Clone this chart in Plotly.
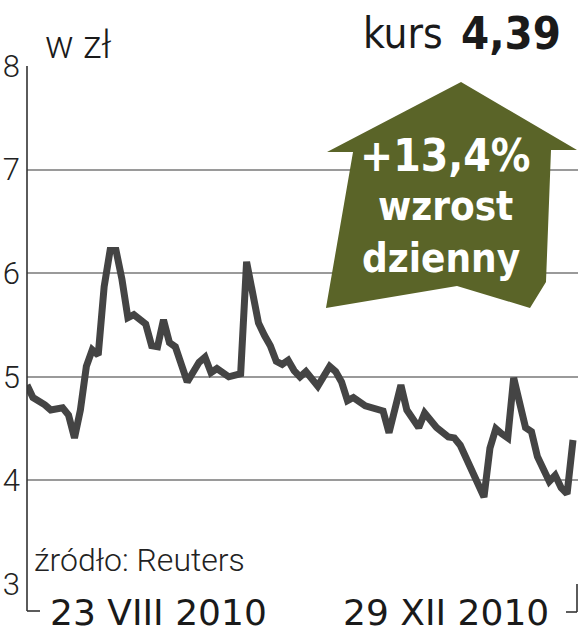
import plotly.graph_objects as go

# trading-day index (23 VIII 2010 = 0 ... 29 XII 2010 = 92) and closing price in zł
days = [0, 1, 3, 4, 6, 7, 8, 9, 10, 11, 12, 13, 14, 15, 16, 17, 18, 20, 21, 22,
        23, 24, 25, 27, 29, 30, 31, 32, 34, 36, 37, 38, 39, 40, 41, 42, 43, 44, 45, 46,
        47, 49, 51, 52, 53, 54, 55, 57, 60, 61, 63, 64, 66, 67, 69, 71, 72, 73, 77, 78,
        79, 80, 81, 82, 83, 84, 85, 86, 88, 89, 90, 91, 92]
prices = [4.92, 4.80, 4.73, 4.68, 4.70, 4.63, 4.41, 4.68, 5.10, 5.26, 5.21, 5.87, 6.22, 6.22, 5.94, 5.57, 5.60, 5.51, 5.30, 5.29,
          5.55, 5.33, 5.29, 4.95, 5.14, 5.19, 5.04, 5.08, 5.00, 5.03, 6.11, 5.80, 5.52, 5.40, 5.30, 5.15, 5.12, 5.16, 5.06, 5.00,
          5.05, 4.91, 5.10, 5.05, 4.95, 4.77, 4.80, 4.72, 4.67, 4.46, 4.92, 4.68, 4.51, 4.65, 4.51, 4.42, 4.41, 4.34, 3.84, 4.31,
          4.50, 4.45, 4.41, 4.99, 4.78, 4.51, 4.47, 4.23, 3.99, 4.05, 3.93, 3.87, 4.39]
y_ticks = [3, 4, 5, 6, 7, 8]
date_labels = ["23 VIII 2010", "29 XII 2010"]
unit_label = "w zł"
last_price = "4,39"
change_lines = ["+13,4%", "wzrost", "dzienny"]
source = "źródło: Reuters"

W, H = 579, 640
L, R, T, B = 27, 1, 66, 56
COND = "DejaVu Sans Condensed, DejaVu Sans, sans-serif"
LIGHT = "Roboto, Liberation Sans, sans-serif"
OLIVE = "#5a6428"


def paper(x, y):
    # page pixel position -> paper coordinates
    return (x - L) / (W - L - R), (H - B - y) / (H - T - B)


def path(points):
    pts = [paper(x, y) for x, y in points]
    return "M " + " L ".join(f"{x:.4f},{y:.4f}" for x, y in pts) + " Z"


fig = go.Figure(go.Scatter(
    x=days, y=prices, mode="lines",
    line=dict(color="#444444", width=7),
    hoverinfo="skip",
))

arrow = [(461, 82), (577, 150), (551, 150), (546, 282), (530, 308), (457, 286),
         (326, 308), (353, 152), (327, 152)]

shapes = [
    dict(type="path", path=path(arrow), fillcolor=OLIVE, line=dict(width=0),
         xref="paper", yref="paper", layer="above"),
]
# gridlines stop a little short of the page edge
for v in y_ticks:
    shapes.append(dict(type="line", xref="paper", yref="y", x0=paper(575, 0)[0],
                       x1=1, y0=v, y1=v, line=dict(color="white", width=3),
                       layer="below"))
# left axis with bottom bracket, right bracket
for pts in ([(27, 66), (27, 611), (40, 611)], [(577, 584), (577, 612), (566, 612)]):
    for (x0, y0), (x1, y1) in zip(pts[:-1], pts[1:]):
        a, b = paper(x0, y0)
        c, d = paper(x1, y1)
        shapes.append(dict(type="line", xref="paper", yref="paper",
                           x0=a, y0=b, x1=c, y1=d,
                           line=dict(color="#333333", width=1.6)))

annotations = []


def label(text, x, y, size, family=COND, xanchor="center", color="#1a1a1a",
          bold=False, weight=None):
    px_, py_ = paper(x, y)
    font = dict(family=family, size=size, color=color)
    if weight:
        font["weight"] = weight
    annotations.append(dict(
        text=f"<b>{text}</b>" if bold else text, x=px_, y=py_,
        xref="paper", yref="paper", xanchor=xanchor, yanchor="middle",
        showarrow=False, font=font,
    ))


label(unit_label, 43, 45, 38, family=LIGHT, xanchor="left", weight=300)
label("kurs", 445, 33, 42, xanchor="right")
label(last_price, 563, 33, 45, xanchor="right", bold=True)
label(change_lines[0], 445, 155, 44, color="white", bold=True)
label(change_lines[1], 445, 206, 40, color="white", bold=True)
label(change_lines[2], 441, 258, 40, color="white", bold=True)
label(source, 32, 560, 32, family=LIGHT, xanchor="left", color="#222222", weight=300)
label(date_labels[0], 158, 612, 36, family="DejaVu Sans, sans-serif")
label(date_labels[1], 446, 612, 36, family="DejaVu Sans, sans-serif")

fig.update_layout(
    width=W, height=H,
    margin=dict(l=L, r=R, t=T, b=B, autoexpand=False),
    paper_bgcolor="white", plot_bgcolor="white",
    showlegend=False,
    shapes=shapes,
    annotations=annotations,
    xaxis=dict(range=[0, 92.84], showgrid=False, zeroline=False, showline=False,
               showticklabels=False, ticks="", automargin=False),
    yaxis=dict(range=[3, 8], tickvals=y_ticks, showgrid=True, gridcolor="#9a9a9a",
               gridwidth=1.5, zeroline=False, showline=False, ticks="",
               automargin=False, ticklabelstandoff=6,
               tickfont=dict(family=LIGHT, size=31, color="#222222", weight=300)),
)

# drop the browser's default 8px body margin so the figure fills the window
fig.write_html("out.html", config={"displayModeBar": False},
               post_script="document.body.style.margin = '0';")
